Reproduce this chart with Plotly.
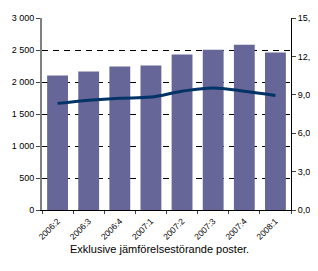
import plotly.graph_objects as go

categories = ["2006:2", "2006:3", "2006:4", "2007:1", "2007:2", "2007:3", "2007:4", "2008:1"]
bar_values = [2103, 2165, 2242, 2258, 2428, 2505, 2582, 2459]
line_values = [8.33, 8.58, 8.74, 8.82, 9.28, 9.54, 9.28, 8.95]
left_ticks = [0, 500, 1000, 1500, 2000, 2500, 3000]
left_labels = ["0", "500", "1 000", "1 500", "2 000", "2 500", "3 000"]
right_ticks = [0, 3, 6, 9, 12, 15]
right_labels = ["0,0", "3,0", "6,0", "9,0", "12,0", "15,0"]
caption = "Exklusive jämförelsestörande poster."

# page body has an 8px default margin; figure occupies the rest of the 318x271 window
OFF = 8
W, H = 318 - OFF, 271 - OFF
ML, MR, MT, MB = 42 - OFF, 27, 18 - OFF, 61

fig = go.Figure()
fig.add_trace(go.Bar(x=categories, y=bar_values, marker=dict(color="#666699", line=dict(width=0)), yaxis="y"))
fig.add_trace(go.Scatter(x=categories, y=line_values, mode="lines", line=dict(color="#003366", width=3, shape="spline"), yaxis="y2"))

font = dict(family="Arial, Liberation Sans, sans-serif", size=9, color="#000000")
xfont = dict(family="Arial, Liberation Sans, sans-serif", size=8.5, color="#000000")
fig.update_layout(
    width=W, height=H,
    margin=dict(l=ML, r=MR, t=MT, b=MB, autoexpand=False),
    paper_bgcolor="white", plot_bgcolor="white",
    showlegend=False, bargap=0.33,
    font=font,
    xaxis=dict(type="category", tickangle=-45, ticks="outside", ticklen=3, tickson="boundaries",
               ticklabelstandoff=2,
               showline=True, linecolor="black", linewidth=1, showgrid=False, tickfont=xfont, automargin=False),
    yaxis=dict(range=[0, 3000], tickvals=left_ticks, ticktext=left_labels, ticks="outside", ticklen=4,
               showline=True, linecolor="#808080", linewidth=2, showgrid=True, gridcolor="black",
               griddash="6px,5px", gridwidth=1, zeroline=False, tickfont=font, automargin=False),
    yaxis2=dict(range=[0, 15], tickvals=right_ticks, ticktext=right_labels, overlaying="y", side="right",
                ticks="outside", ticklen=4, showline=True, linecolor="black", linewidth=1,
                showgrid=False, zeroline=False, tickfont=font, automargin=False),
    annotations=[dict(text=caption, x=(159 - 42) / (W - ML - MR), y=(271 - MB - 257) / (H - MT - MB),
                      xref="paper", yref="paper", showarrow=False,
                      font=dict(family="Arial, Liberation Sans, sans-serif", size=11, color="black"))],
)
fig.write_html("out.html")
